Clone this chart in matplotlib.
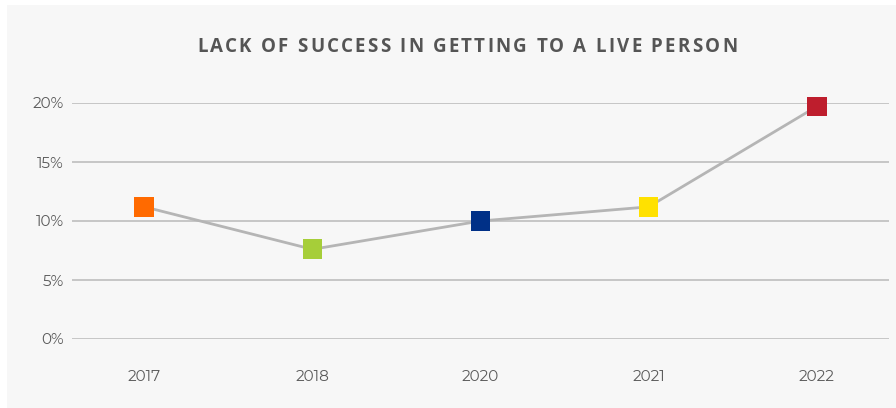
import matplotlib.pyplot as plt
from matplotlib.patches import Rectangle

# Data
years = ['2017', '2018', '2020', '2021', '2022']
values = [11.2, 7.6, 10.0, 11.2, 19.7]
colors = ['#ff6a00', '#a6ce39', '#003087', '#ffe100', '#be1e2d']
yticks = [0, 5, 10, 15, 20]
title = 'LACK OF SUCCESS IN GETTING TO A LIVE PERSON'

plt.rcParams['font.family'] = ['Montserrat Alternates', 'DejaVu Sans']

fig = plt.figure(figsize=(8.96, 4.08), dpi=100)
fig.patch.set_facecolor('white')
fig.patches.append(Rectangle((7 / 896, 0), 1 - 7 / 896, 1 - 5 / 408,
                             transform=fig.transFigure, facecolor='#f7f7f7',
                             edgecolor='none', zorder=-10))

ax = fig.add_axes([72 / 896, 69 / 408, (889 - 72) / 896, 236 / 408])
ax.set_facecolor('none')

x = list(range(len(years)))
ax.plot(x, values, color='#b5b5b5', linewidth=2, zorder=2)
ax.scatter(x, values, marker='s', s=19 ** 2 * 0.56, c=colors, zorder=3,
           clip_on=False, linewidths=0)

ax.set_xlim(-0.43, 4.43)
ax.set_ylim(0, 20)
ax.set_xticks(x)
ax.set_xticklabels(years)
ax.set_yticks(yticks)
ax.set_yticklabels([f'{v}%' for v in yticks])
ax.grid(axis='y', color='#c6c6c6', linewidth=1.4)
ax.set_axisbelow(True)
for s in ax.spines.values():
    s.set_visible(False)
ax.tick_params(length=0, labelsize=11, labelcolor='#5a5a5a')
ax.tick_params(axis='x', pad=22)
ax.tick_params(axis='y', pad=6)

# title with letter spacing: place each character separately
tstyle = dict(fontsize=13.5, fontweight='bold', color='#555555',
              family=['Open Sans', 'DejaVu Sans'], va='center', ha='left')
renderer = fig.canvas.get_renderer()


def text_width(s):
    t = fig.text(0, 0, s + '|', **tstyle)
    bar = fig.text(0, 0, '|', **tstyle)
    w = t.get_window_extent(renderer).width - bar.get_window_extent(renderer).width
    t.remove()
    bar.remove()
    return w


natural = text_width(title)
target = 540
extra = (target - natural) / (len(title) - 1)
start = 467 - target / 2
ty = 1 - 47 / 408
for i, ch in enumerate(title):
    if ch == ' ':
        continue
    px = start + text_width(title[:i]) + i * extra
    fig.text(px / 896, ty, ch, **tstyle)

fig.savefig('out.png', dpi=100, facecolor=fig.get_facecolor())
